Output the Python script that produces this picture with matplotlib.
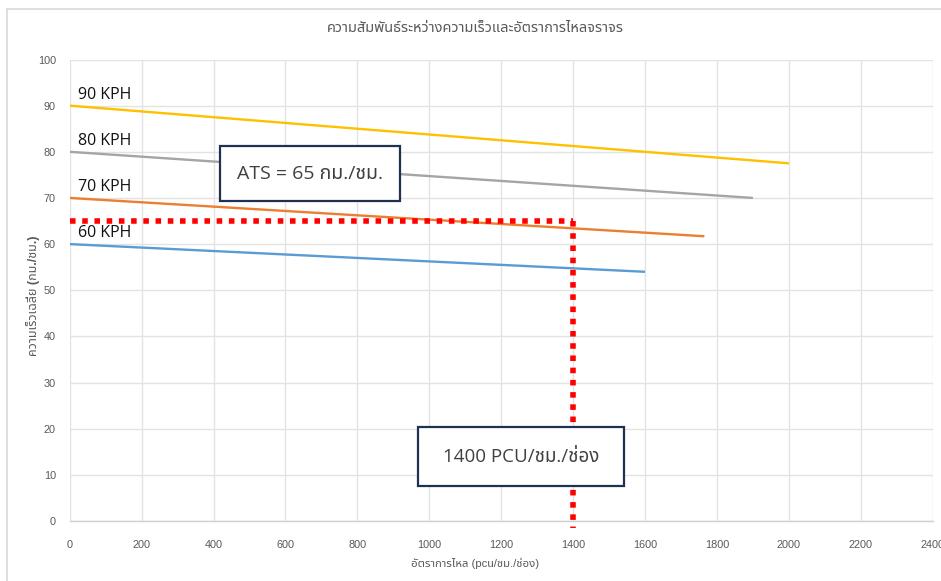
import matplotlib
matplotlib.use("Agg")
import matplotlib.pyplot as plt
from matplotlib import font_manager
from matplotlib.patches import Rectangle
from matplotlib.lines import Line2D

# ---- data -------------------------------------------------------------
series_labels = ["60 KPH", "70 KPH", "80 KPH", "90 KPH"]
flow_start = [0, 0, 0, 0]
flow_end = [1600, 1765, 1900, 2000]
speed_start = [60, 70, 80, 90]
speed_end = [54, 61.7, 70, 77.5]
series_colors = ["#5B9BD5", "#ED7D31", "#A5A5A5", "#FFC000"]

ats_speed = 65          # average travel speed, km/h
design_flow = 1400      # pcu/h/lane

x_ticks = list(range(0, 2401, 200))
y_ticks = list(range(0, 101, 10))

title = "ความสัมพันธ์ระหว่างความเร็วและอัตราการไหลจราจร"
x_title = "อัตราการไหล (pcu/ชม./ช่อง)"
y_title = "ความเร็วเฉลี่ย (กม./ชม.)"
ats_text = "ATS = 65 กม./ชม."
flow_text = "1400 PCU/ชม./ช่อง"


# ---- fonts ------------------------------------------------------------
def pick_thai_font():
    names = {f.name for f in font_manager.fontManager.ttflist}
    for cand in ["Noto Sans Thai", "Noto Sans Thai UI", "Sarabun", "Prompt",
                 "Kanit", "Bai Jamjuree", "Athiti"]:
        if cand in names:
            return cand
    return "DejaVu Sans"


thai = pick_thai_font()
names = {f.name for f in font_manager.fontManager.ttflist}
narrow = "Liberation Sans Narrow" if "Liberation Sans Narrow" in names else "Liberation Sans"

main_family = ["Open Sans", thai, "DejaVu Sans"]
narrow_family = [narrow, thai, "DejaVu Sans"]

# ---- figure -----------------------------------------------------------
W, H = 941, 581
fig = plt.figure(figsize=(W / 100, H / 100), dpi=100)
fig.patch.set_facecolor("white")

# chart-area frame
fig.add_artist(Line2D([7 / W, 7 / W], [0, 1 - 9 / H], transform=fig.transFigure,
                      color="#D9D9D9", lw=1.2))
fig.add_artist(Line2D([7 / W, 1], [1 - 9 / H, 1 - 9 / H], transform=fig.transFigure,
                      color="#D9D9D9", lw=1.2))

ax = fig.add_axes([69.7 / W, 60 / H, 863 / W, 461.5 / H])
ax.set_xlim(0, 2400)
ax.set_ylim(0, 100)
ax.set_xticks(x_ticks)
ax.set_yticks(y_ticks)
ax.grid(True, color="#E3E3E3", lw=1.0)
ax.set_axisbelow(True)
for s in ["top", "right", "left"]:
    ax.spines[s].set_visible(False)
ax.spines["bottom"].set_color("#D0D0D0")
ax.spines["bottom"].set_linewidth(1.0)
ax.tick_params(length=0, colors="#595959", labelsize=7.8)
ax.tick_params(axis="x", pad=14)
ax.tick_params(axis="y", pad=10)
for lab in ax.get_xticklabels() + ax.get_yticklabels():
    lab.set_family(narrow_family)

# speed-flow lines
for x0, x1, y0, y1, c in zip(flow_start, flow_end, speed_start, speed_end, series_colors):
    ax.plot([x0, x1], [y0, y1], color=c, lw=1.7, solid_capstyle="butt", zorder=3)

# series labels
for lab, y0 in zip(series_labels, speed_start):
    ax.text(23, y0 + 1.5, lab, family=main_family, fontsize=11.5, color="#111111",
            va="baseline", ha="left", zorder=4)

# ATS / flow reference lines
ax.plot([0, design_flow], [ats_speed, ats_speed], color="#FF0000", lw=4.0,
        linestyle=(0, (1, 1.2)), dash_capstyle="butt", zorder=5)
ax.plot([design_flow, design_flow], [ats_speed, -1.6], color="#FF0000", lw=4.0,
        linestyle=(0, (1, 1.2)), dash_capstyle="butt", zorder=5, clip_on=False)


# call-out boxes
def callout(x0, x1, y0, y1, text, size):
    ax.add_patch(Rectangle((x0, y0), x1 - x0, y1 - y0, facecolor="white",
                           edgecolor="#1F3150", lw=1.6, zorder=6))
    ax.text((x0 + x1) / 2, (y0 + y1) / 2, text, family=main_family, fontsize=size,
            color="#404040", ha="center", va="center", zorder=7)


callout(418, 918, 69.3, 81.2, ats_text, 14)
callout(969, 1541, 7.6, 20.3, flow_text, 13.5)

# titles
fig.text(475 / W, 1 - 28 / H, title, family=[thai, "DejaVu Sans"], fontsize=10.5,
         color="#595959", ha="center", va="center")
fig.text(475 / W, 1 - 563 / H, x_title, family=narrow_family, fontsize=8.2,
         color="#595959", ha="center", va="center")
fig.text(33 / W, 1 - 296 / H, y_title, family=narrow_family, fontsize=9,
         color="#595959", ha="center", va="center", rotation=90, weight="semibold")

fig.savefig("out.png", dpi=100)
